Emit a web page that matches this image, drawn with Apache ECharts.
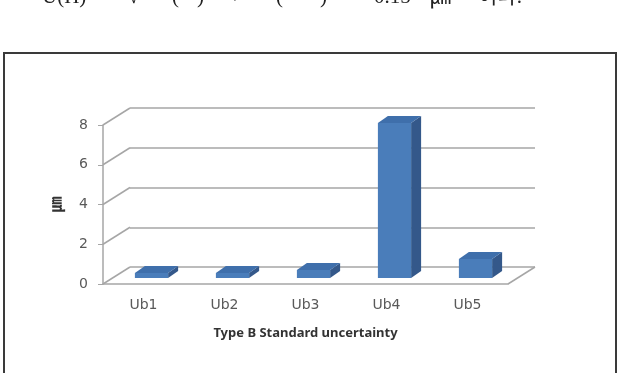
<!DOCTYPE html>
<html>
<head>
<meta charset="utf-8">
<script src="https://cdn.jsdelivr.net/npm/echarts@6/dist/echarts.min.js"></script>
<style>
  html, body { margin: 0; padding: 0; background: #fff; }
  .main { width: 623px; height: 373px; }
</style>
</head>
<body>
<div class="main" id="main"></div>
<script>
var categories = ['Ub1', 'Ub2', 'Ub3', 'Ub4', 'Ub5'];
var values = [0.25, 0.25, 0.4, 7.8, 0.95];
var wallTicks = [0, 2, 4, 6, 8];
var yMin = 0, yMax = 8, yStep = 2;
var xTitle = 'Type B Standard uncertainty';
var yTitle = '㎛';
// cropped line of the formula above the chart
var formulaParts = [
  ['U(H)', 42], ['=', 98], ['√', 128], ['(', 172], [')', 197], ['+', 229],
  ['(', 276], [')', 320], ['=', 336], ['0.15', 374], ['㎛', 430], ['이다.', 478]
];

var DEPTH = [27, -17];      // back wall offset
var BAR_SHIFT = [8, -6];    // bar front face sits a bit into the floor
var BAR_DEPTH = [10, -7];   // bar thickness
var gridColor = '#a6a6a6';

var myChart = echarts.init(document.getElementById('main'));

function wallItem(params, api) {
  var cs = params.coordSys;
  var v = api.value(1);
  var y = api.coord([0, v])[1];
  var line = { stroke: gridColor, lineWidth: 1.5 };
  var kids = [{
    type: 'line',
    shape: { x1: cs.x, y1: y, x2: cs.x + DEPTH[0], y2: y + DEPTH[1] },
    style: line
  }];
  if (v === yMin) {
    kids.push({
      type: 'line',
      shape: { x1: cs.x + cs.width, y1: y, x2: cs.x + cs.width + DEPTH[0], y2: y + DEPTH[1] },
      style: line
    });
  }
  return { type: 'group', children: kids };
}

function barItem(params, api) {
  var i = api.value(0);
  var base = api.coord([i, 0]);
  var top = api.coord([i, api.value(1)]);
  var w = api.size([1, 0])[0] * 0.41;
  var x0 = base[0] + BAR_SHIFT[0] - w / 2, x1 = x0 + w;
  var yb = base[1] + BAR_SHIFT[1], yt = top[1] + BAR_SHIFT[1];
  var dx = BAR_DEPTH[0], dy = BAR_DEPTH[1];
  return {
    type: 'group',
    children: [
      { type: 'polygon', shape: { points: [[x1, yb], [x1 + dx, yb + dy], [x1 + dx, yt + dy], [x1, yt]] },
        style: { fill: '#34588a' } },
      { type: 'polygon', shape: { points: [[x0, yt], [x0 + dx, yt + dy], [x1 + dx, yt + dy], [x1, yt]] },
        style: { fill: '#3f6fab' } },
      { type: 'rect', shape: { x: x0, y: yt, width: w, height: yb - yt },
        style: { fill: '#4a7dba' } }
    ]
  };
}

var graphics = [{
  type: 'rect',
  shape: { x: 4, y: 53, width: 612, height: 340 },
  style: { fill: null, stroke: '#3a3a3a', lineWidth: 2 }
}];
formulaParts.forEach(function (p) {
  graphics.push({
    type: 'text', x: p[1], y: 8,
    style: { text: p[0], font: '21px "Liberation Serif", "Noto Sans CJK KR"', fill: '#222', verticalAlign: 'bottom' }
  });
});

var option = {
  animation: false,
  backgroundColor: '#fff',
  graphic: graphics,
  grid: [
    { left: 103, right: 115, top: 125, bottom: 89 },
    { left: 130, right: 88, top: 108, bottom: 106 }
  ],
  xAxis: [{
    gridIndex: 0,
    type: 'category',
    data: categories,
    axisLine: { lineStyle: { color: gridColor, width: 1.5 } },
    axisTick: { show: false },
    axisLabel: { color: '#595959', fontSize: 14, fontFamily: 'DejaVu Sans', margin: 14 },
    name: xTitle,
    nameLocation: 'middle',
    nameGap: 43,
    nameTextStyle: { color: '#333', fontSize: 13, fontWeight: 'bold', fontFamily: 'Noto Sans' }
  }, {
    gridIndex: 1,
    type: 'category',
    data: categories,
    show: false
  }],
  yAxis: [{
    gridIndex: 0,
    type: 'value',
    min: yMin, max: yMax, interval: yStep,
    axisLine: { show: true, lineStyle: { color: gridColor, width: 1.5 } },
    axisTick: { show: true, length: 5, lineStyle: { color: gridColor } },
    axisLabel: { color: '#595959', fontSize: 14, fontFamily: 'DejaVu Sans', margin: 15 },
    splitLine: { show: false },
    name: yTitle,
    nameLocation: 'middle',
    nameRotate: 90,
    nameGap: 40,
    nameTextStyle: { color: '#333', fontSize: 16, fontWeight: 'bold', fontFamily: 'Noto Sans CJK KR' }
  }, {
    gridIndex: 1,
    type: 'value',
    min: yMin, max: yMax, interval: yStep,
    axisLine: { show: false },
    axisTick: { show: false },
    axisLabel: { show: false },
    splitLine: { lineStyle: { color: gridColor, width: 1.5 } }
  }],
  series: [{
    type: 'custom',
    xAxisIndex: 0, yAxisIndex: 0,
    silent: true,
    renderItem: wallItem,
    data: wallTicks.map(function (v) { return [0, v]; })
  }, {
    type: 'custom',
    xAxisIndex: 0, yAxisIndex: 0,
    renderItem: barItem,
    data: values.map(function (v, i) { return [i, v]; })
  }]
};

myChart.setOption(option);
</script>
</body>
</html>
